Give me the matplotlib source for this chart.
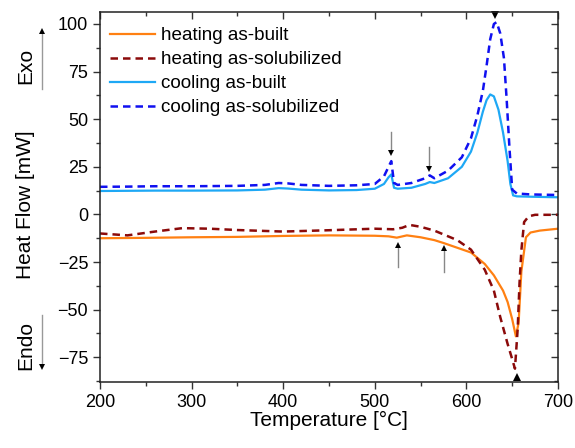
import numpy as np
import matplotlib.pyplot as plt
from matplotlib.ticker import MultipleLocator

plt.rcParams['font.family'] = ['Liberation Sans', 'DejaVu Sans']

# heating as-built
T_heat_built = [200, 250, 300, 350, 400, 450, 500, 515, 524, 535, 550, 565, 575, 590, 605,
                620, 630, 640, 645, 650, 654, 657, 660, 665, 670, 680, 700]
v_heat_built = [-12.5, -12.3, -12.0, -11.8, -11.3, -11.0, -11.2, -11.5, -12.2, -11.0, -12.0,
                -13.5, -15.0, -17.5, -20.0, -26.0, -32.0, -40.0, -46.0, -55.0, -64.0, -57.0,
                -30.0, -12.0, -9.5, -8.5, -7.5]

# heating as-solubilized
T_heat_sol = [200, 230, 260, 290, 320, 350, 400, 450, 500, 520, 530, 538, 550, 565, 575, 590,
              605, 620, 630, 637, 645, 650, 653, 656, 658, 660, 663, 668, 675, 700]
v_heat_sol = [-10.0, -11.0, -9.0, -7.2, -7.5, -8.2, -9.0, -8.3, -7.5, -7.8, -7.0, -5.5, -6.5,
              -8.5, -10.5, -13.5, -18.5, -29.0, -40.0, -54.0, -68.0, -76.0, -81.0, -60.0,
              -36.0, -19.0, -4.0, -1.0, -0.2, -0.2]

# cooling as-built
T_cool_built = [200, 230, 260, 300, 350, 380, 395, 405, 420, 450, 480, 500, 510, 515, 518, 521,
                525, 540, 555, 560, 565, 580, 595, 605, 612, 618, 622, 626, 630, 635, 640, 645,
                648, 651, 655, 670, 700]
v_cool_built = [12.3, 12.4, 12.5, 12.5, 12.6, 13.0, 13.8, 13.6, 13.0, 12.6, 12.8, 13.5, 16.0,
                19.5, 21.0, 14.0, 13.5, 14.0, 16.0, 17.0, 16.5, 19.0, 25.0, 33.0, 43.0, 54.0,
                60.0, 63.0, 62.0, 55.0, 43.0, 28.0, 16.0, 10.0, 9.5, 9.3, 9.0]

# cooling as-solubilized
T_cool_sol = [200, 230, 260, 300, 350, 380, 395, 405, 420, 450, 480, 500, 510, 515, 518, 521,
              525, 540, 555, 560, 565, 580, 595, 605, 612, 618, 622, 626, 630, 633, 637, 641,
              644, 647, 650, 655, 670, 700]
v_cool_sol = [14.5, 14.6, 14.8, 14.8, 15.0, 15.5, 16.5, 16.3, 15.5, 15.0, 15.3, 16.0, 20.0,
              25.0, 28.0, 16.5, 15.5, 16.5, 19.0, 20.5, 19.0, 23.0, 30.0, 40.0, 52.0, 65.0,
              78.0, 92.0, 100.0, 101.0, 95.0, 82.0, 60.0, 35.0, 13.0, 11.0, 10.5, 10.2]

# event markers (x, shaft start, tip)
down_arrows = [(518, 43.5, 31), (559.5, 35.5, 22.5)]
up_arrows = [(525, -27.5, -14.5), (575.5, -30, -16)]

fig = plt.figure(figsize=(5.75, 4.48), dpi=100)
ax = fig.add_axes([100 / 575, 1 - 382 / 448, 458 / 575, 370 / 448])

ax.plot(T_heat_built, v_heat_built, color='#ff8012', lw=1.6, label='heating as-built')
ax.plot(T_heat_sol, v_heat_sol, color='#8b0a0a', lw=1.8, ls=(0, (3, 2)),
        label='heating as-solubilized')
ax.plot(T_cool_built, v_cool_built, color='#1ea8f5', lw=1.6, label='cooling as-built')
ax.plot(T_cool_sol, v_cool_sol, color='#1010f0', lw=1.8, ls=(0, (3, 2)),
        label='cooling as-solubilized')

for x, y0, y1 in down_arrows:
    ax.plot([x, x], [y0, y1 + 3], color='#888888', lw=1)
    ax.plot(x, y1 + 1.5, marker='v', color='black', ms=5, mew=0)
for x, y0, y1 in up_arrows:
    ax.plot([x, x], [y0, y1 - 3], color='#888888', lw=1)
    ax.plot(x, y1 - 1.5, marker='^', color='black', ms=5, mew=0)

# clipped arrow heads at the frame
ax.plot(631, 104.5, marker='v', color='black', ms=6, mew=0, clip_on=False)
ax.plot(655, -85.5, marker='^', color='black', ms=6, mew=0, clip_on=False)

ax.set_xlim(200, 700)
ax.set_ylim(-88, 106.3)
ax.xaxis.set_major_locator(MultipleLocator(100))
ax.xaxis.set_minor_locator(MultipleLocator(50))
ax.yaxis.set_major_locator(MultipleLocator(25))
ax.yaxis.set_minor_locator(MultipleLocator(12.5))
ax.tick_params(axis='both', which='both', labelsize=13, width=1, color='#333333')
ax.tick_params(which='major', length=5)
ax.tick_params(which='minor', length=3)
ax.tick_params(top=True, right=True, which='both')
for t in ax.xaxis.get_major_ticks() + ax.xaxis.get_minor_ticks():
    t.tick2line.set_marker(3)
for t in ax.yaxis.get_major_ticks() + ax.yaxis.get_minor_ticks():
    t.tick2line.set_marker(0)
for s in ax.spines.values():
    s.set_linewidth(1.1)
    s.set_color('#222222')

ax.set_xlabel('Temperature [°C]', fontsize=15, labelpad=0)

fig.text(26 / 575, 1 - 205 / 448, 'Heat Flow [mW]', rotation=90, fontsize=15,
         ha='center', va='center')
fig.text(26 / 575, 1 - 66 / 448, 'Exo', rotation=90, fontsize=15, ha='center', va='center')
fig.text(26 / 575, 1 - 345 / 448, 'Endo', rotation=90, fontsize=15, ha='center', va='center')

fx = 42 / 575
fig.add_artist(plt.Line2D([fx, fx], [1 - 89 / 448, 1 - 34 / 448], color='#999999', lw=1))
fig.add_artist(plt.Line2D([fx], [1 - 31 / 448], marker='^', color='black', ms=5, mew=0))
fig.add_artist(plt.Line2D([fx, fx], [1 - 315 / 448, 1 - 364 / 448], color='#999999', lw=1))
fig.add_artist(plt.Line2D([fx], [1 - 367 / 448], marker='v', color='black', ms=5, mew=0))

ax.legend(loc='upper left', frameon=False, fontsize=13.6, handlelength=2.4,
          handletextpad=0.3, labelspacing=0.36, borderaxespad=0.2,
          bbox_to_anchor=(-0.003, 0.99))

fig.savefig('out.png', dpi=100)
